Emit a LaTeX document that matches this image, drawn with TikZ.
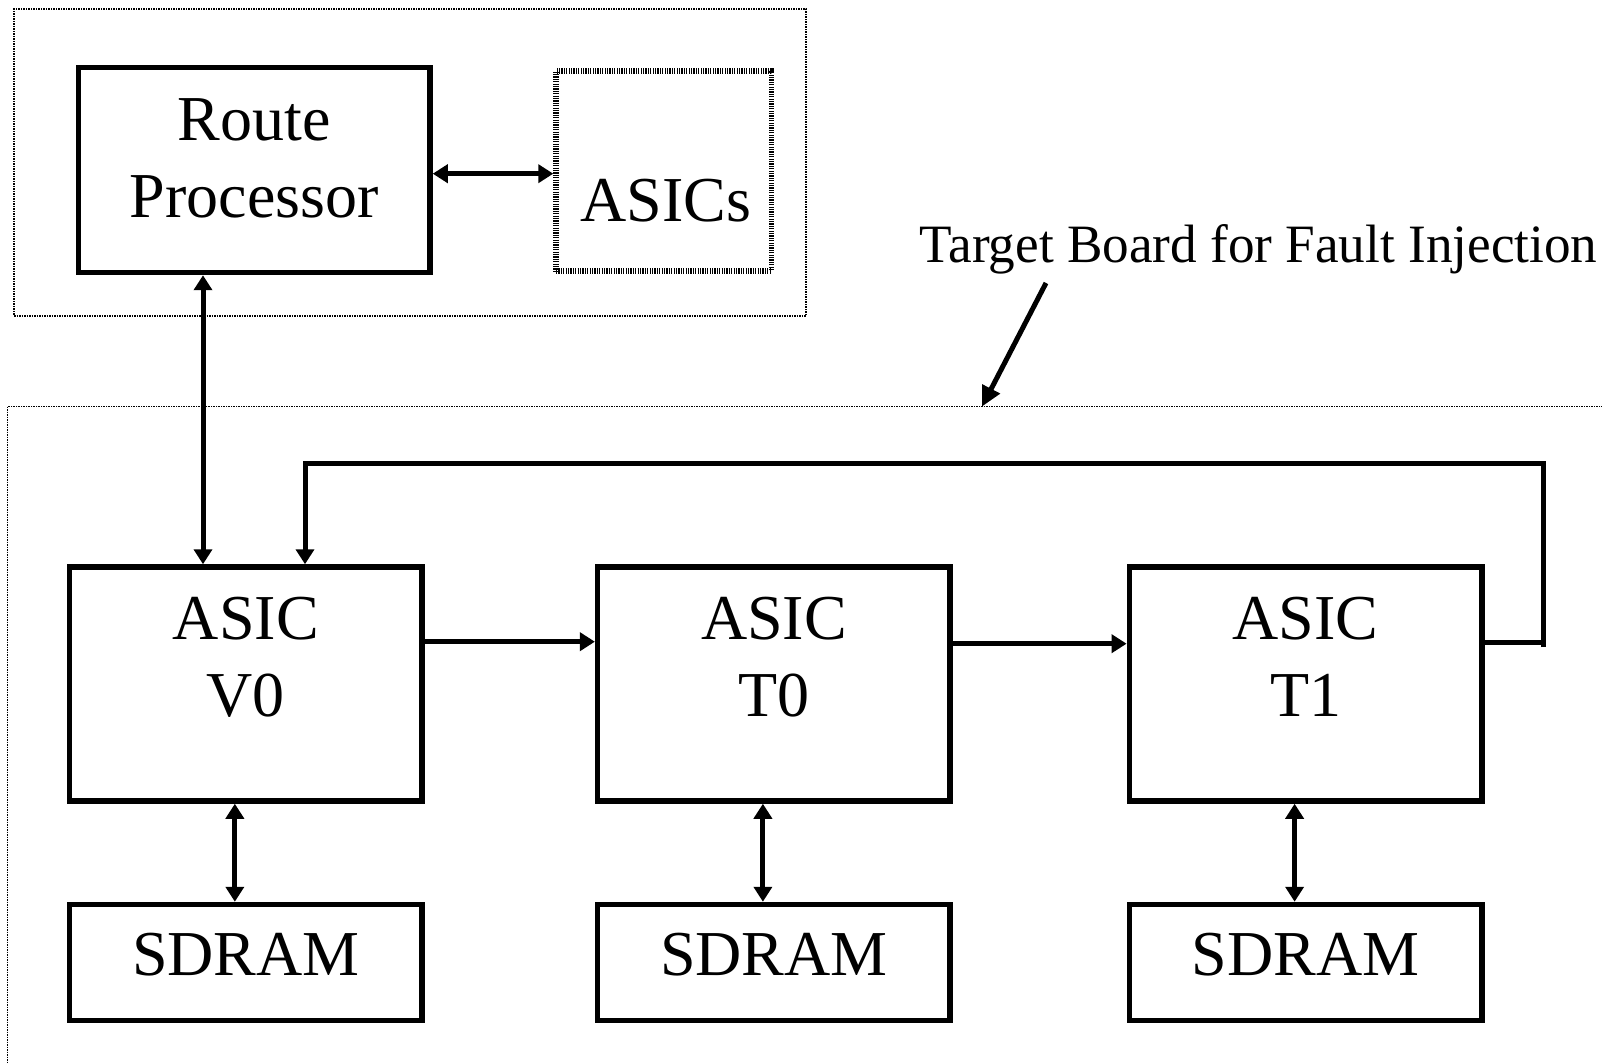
\documentclass[tikz,border=0pt]{standalone}
\usepackage{fontspec}
\setmainfont{Liberation Serif}
\newfontfamily\labelfont[FakeStretch=0.985]{Liberation Serif}
\usetikzlibrary{arrows.meta}

\begin{document}
\begin{tikzpicture}[x=1pt,y=-1pt,
  box/.style={draw, rectangle, line width=5.5pt, inner sep=0pt},
  asicdim/.style={minimum width=352.5pt, minimum height=234pt},
  ramdim/.style={minimum width=352.5pt, minimum height=116pt},
  dotbox/.style={draw, rectangle, line width=5.5pt, inner sep=0pt,
                 dash pattern=on 1.2pt off 1.2pt},
  frameline/.style={line width=1.5pt, dash pattern=on 1.5pt off 1pt},
  txt/.style={inner sep=0pt, anchor=base, align=center,
              font=\fontsize{64}{77}\selectfont},
  lbl/.style={inner sep=0pt, anchor=base west,
              font=\labelfont\fontsize{54}{60}\selectfont},
  conn/.style={line width=5pt},
  arr/.style={line width=5pt, -{Triangle[length=15pt,width=18pt]}},
  dbl/.style={line width=5pt, {Triangle[length=15pt,width=18pt]}-{Triangle[length=15pt,width=18pt]}},
  bigarr/.style={line width=5pt, -{Triangle[length=20pt,width=19pt]}}
]
\useasboundingbox (0,0) rectangle (1602,1064);
\clip (0,0) rectangle (1602,1064);
\fill[white] (0,0) rectangle (1602,1064);

% control-plane group
\node[draw, rectangle, frameline, inner sep=0pt, minimum width=792pt, minimum height=306.7pt]
  (ctrl) at (410,162.5) {};
\node[box, minimum width=351.5pt, minimum height=205pt] (rp) at (254.25,170) {};
% multi-line texts are placed by the baseline of their last line
\node[txt] (rptext) at (254.25,217.7) {Route\\Processor};
\node[dotbox, minimum width=215.3pt, minimum height=200pt] (asics) at (663.7,171) {};
\node[txt] (asicstext) at (666,221.7) {ASICs};

% target board outline (runs past the right and bottom edges)
\coordinate (boardNE) at (1610,406.6);
\coordinate (boardNW) at (7.5,406.6);
\coordinate (boardSW) at (7.5,1070);
\draw[frameline] (boardNE) -- (boardNW) -- (boardSW);

\node[lbl] (tgt) at (919.5,262.6) {Target Board for Fault Injection};
\coordinate (tgtTail) at (1046,283);
\coordinate (tgtTip) at (982,406.6);
\draw[bigarr] (tgtTail) -- (tgtTip);

% ASICs on the board
\node[box, asicdim] (v0) at (245.85,684) {};
\node[box, asicdim] (t0) at (773.9,684) {};
\node[box, asicdim] (t1) at (1305.6,684) {};
\node[txt] (v0text) at (245.85,716) {ASIC\\V0};
\node[txt] (t0text) at (773.9,716) {ASIC\\T0};
\node[txt] (t1text) at (1305.6,716) {ASIC\\T1};

% SDRAMs
\node[box, ramdim] (s0) at (245.85,962.5) {};
\node[box, ramdim] (s1) at (773.9,962.5) {};
\node[box, ramdim] (s2) at (1305.6,962.5) {};
\node[txt] (s0text) at (245.85,975.7) {SDRAM};
\node[txt] (s1text) at (773.9,975.7) {SDRAM};
\node[txt] (s2text) at (1305.6,975.7) {SDRAM};

% connectors
\draw[dbl] ([yshift=-3.7pt]rp.east) -- ([yshift=-2.7pt]asics.west);
\coordinate (rpx) at (203,0);
\draw[dbl] (rp.south -| rpx) -- (v0.north -| rpx);

\draw[arr] ([yshift=42.3pt]v0.east) -- ([yshift=42.3pt]t0.west);
\draw[arr] ([yshift=40.3pt]t0.east) -- ([yshift=40.3pt]t1.west);

% feedback loop from T1 back to V0
\coordinate (fbx) at (305,0);
\coordinate (fbtop) at (1543.3,463);
\coordinate (fbbot) at (1543.3,647);
\coordinate (t1out) at ([yshift=41.3pt]t1.east);
\draw[conn] (t1out) -- (t1out -| fbtop);
\draw[arr] (fbbot) -- (fbtop) -| (v0.north -| fbx);

% memory links
\draw[dbl] ([xshift=-11pt]v0.south) -- ([xshift=-11pt]s0.north);
\draw[dbl] ([xshift=-11pt]t0.south) -- ([xshift=-11pt]s1.north);
\draw[dbl] ([xshift=-11pt]t1.south) -- ([xshift=-11pt]s2.north);
\end{tikzpicture}
\end{document}
